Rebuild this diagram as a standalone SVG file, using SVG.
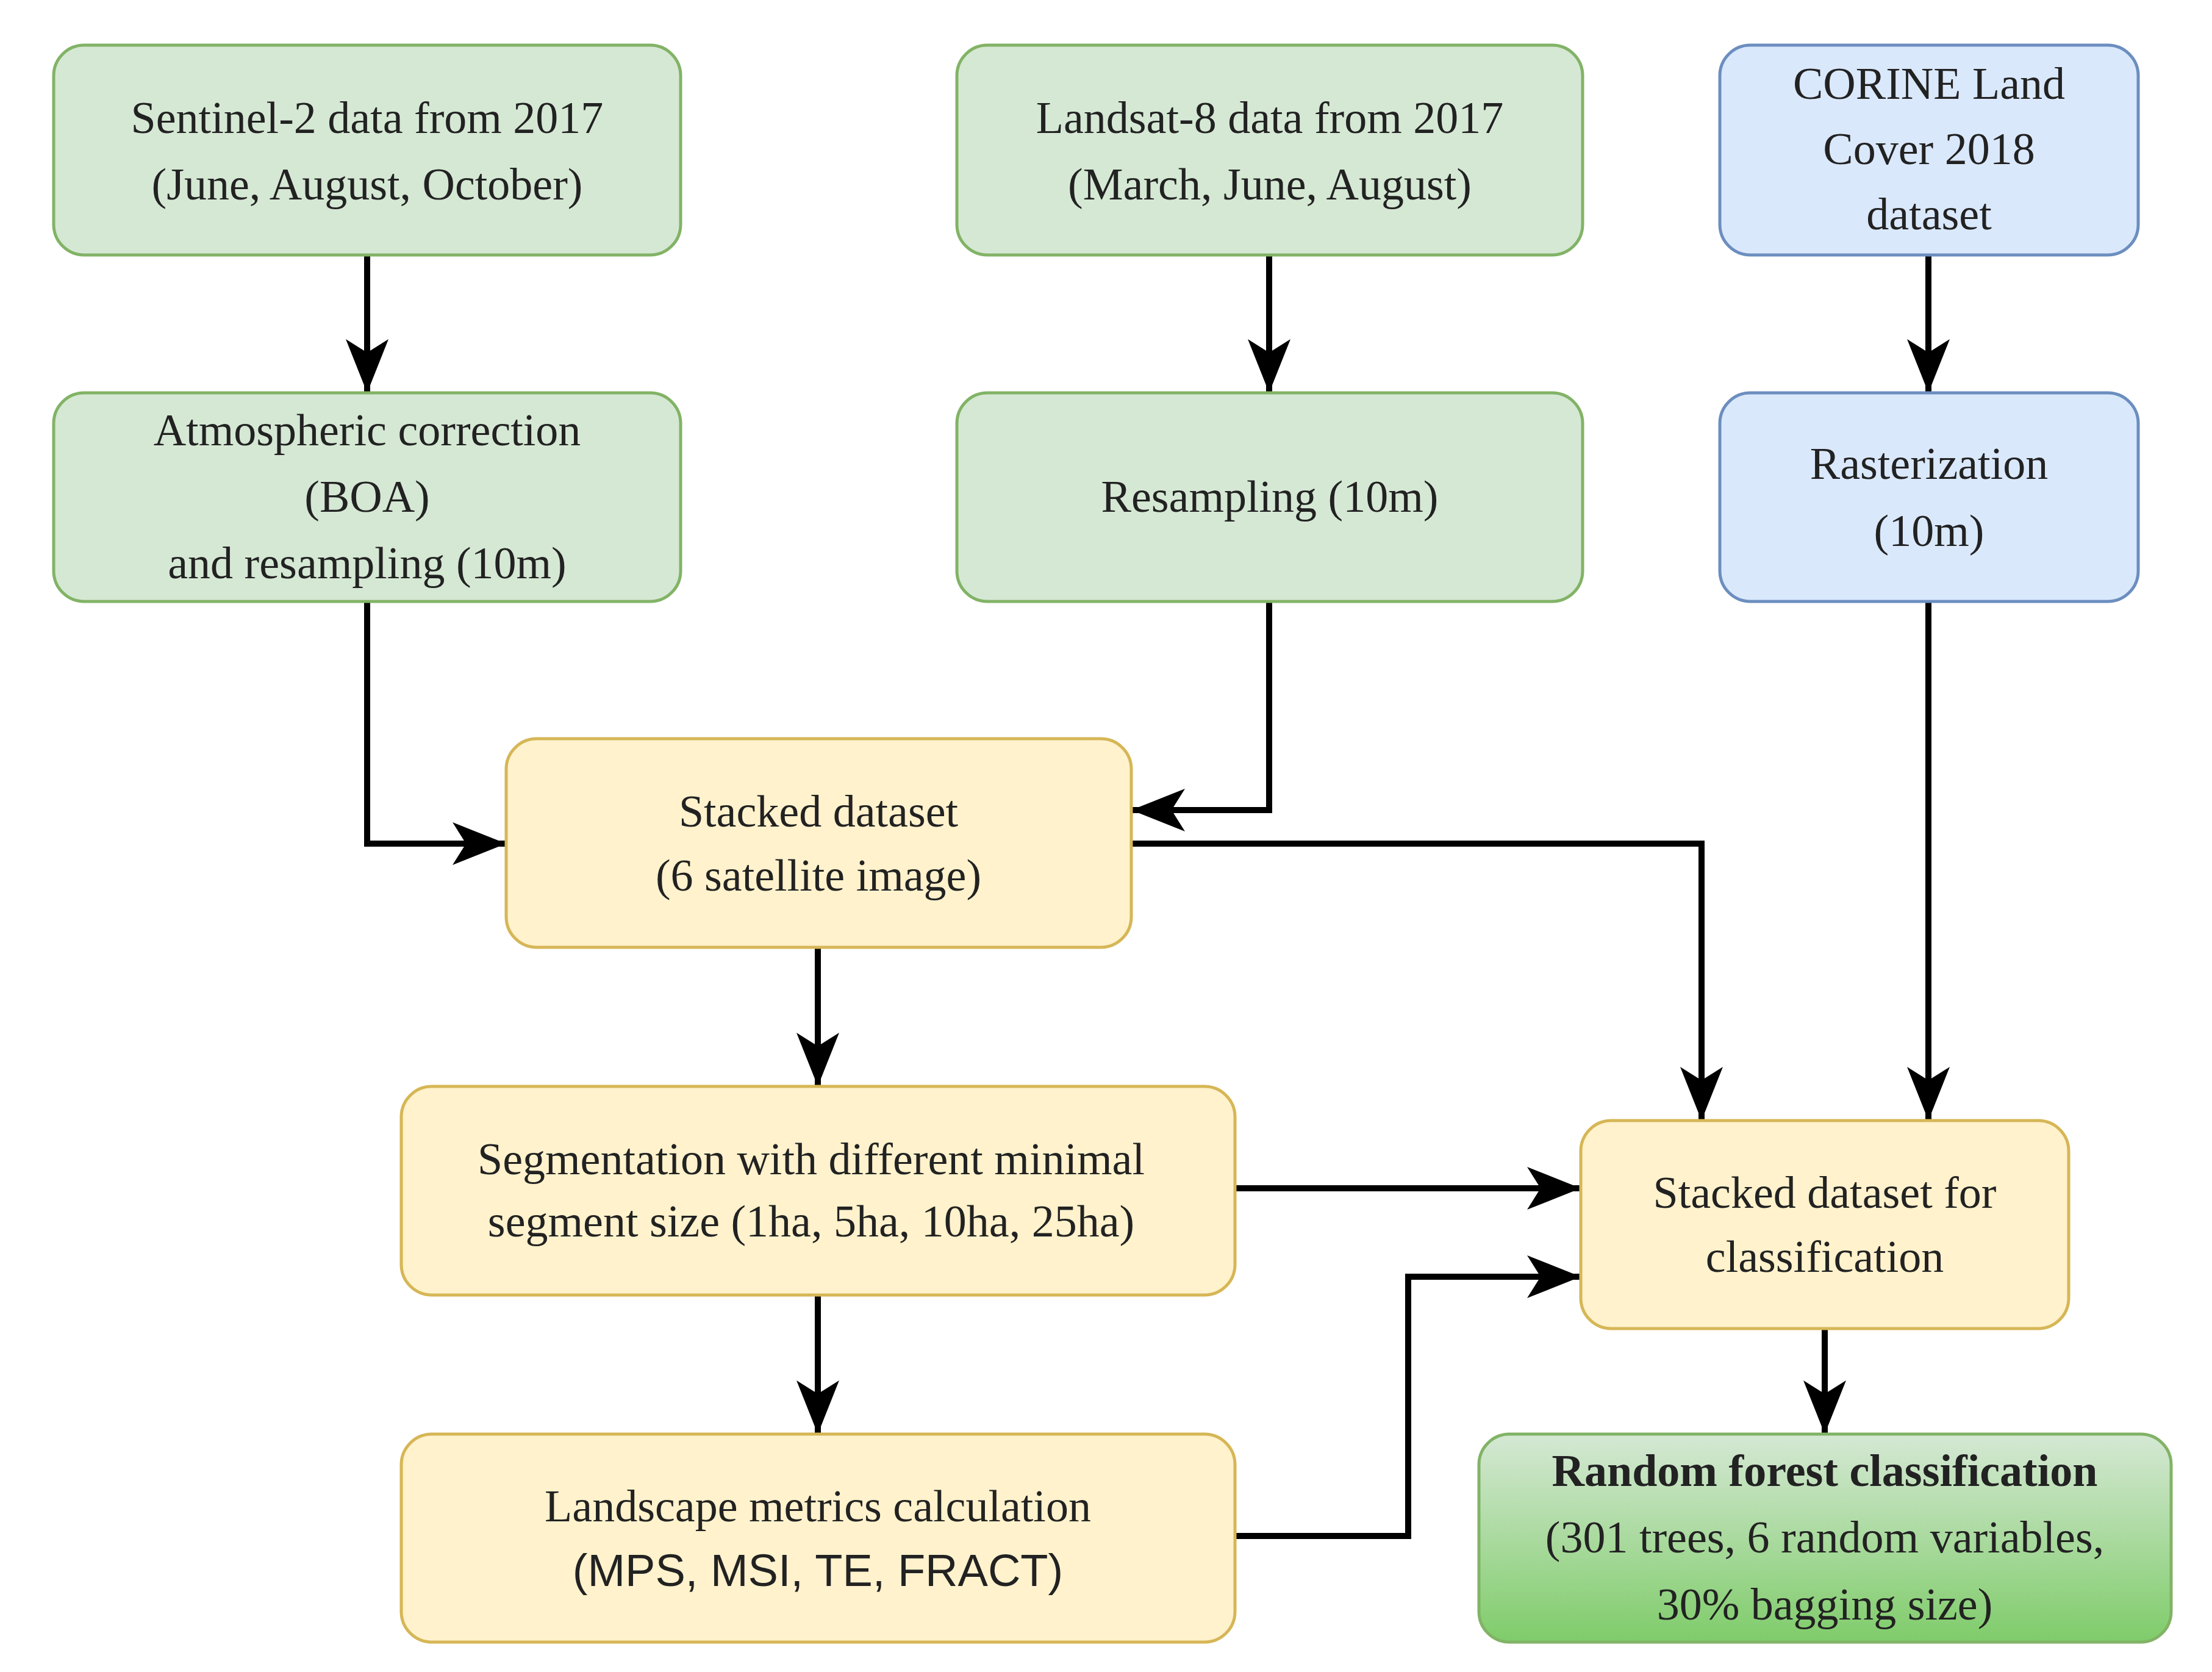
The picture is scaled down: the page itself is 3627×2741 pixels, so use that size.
<svg xmlns="http://www.w3.org/2000/svg" width="3627" height="2741" viewBox="0 0 3627 2741">
<style>
text{font-family:"Liberation Serif",serif;font-size:74px;fill:#222;text-anchor:middle;dominant-baseline:central}
.g{fill:#d5e8d4;stroke:#82b366;stroke-width:5}
.b{fill:#dae8fc;stroke:#6c8ebf;stroke-width:5}
.y{fill:#fff2cc;stroke:#d6b656;stroke-width:5}
.c{fill:none;stroke:#000;stroke-width:10;marker-end:url(#a)}
</style>
<defs>
<marker id="a" markerUnits="userSpaceOnUse" markerWidth="90" markerHeight="90" viewBox="0 0 90 90" refX="88" refY="45" orient="auto">
<path d="M0,10 L88,45 L0,80 L22,45 Z" fill="#000"/>
</marker>
<linearGradient id="rf" x1="0" y1="0" x2="0" y2="1"><stop offset="0" stop-color="#d5e8d4"/><stop offset="1" stop-color="#7fcc6a"/></linearGradient>
</defs>
<rect width="3627" height="2741" fill="#fff"/>
<g id="connectors">
<path class="c" d="M602,418 V644"/>
<path class="c" d="M2081,418 V644"/>
<path class="c" d="M3162,418 V644"/>
<path class="c" d="M602,986 V1383 H830"/>
<path class="c" d="M2081,986 V1328 H1855"/>
<path class="c" d="M1855,1383 H2790 V1837"/>
<path class="c" d="M3162,986 V1837"/>
<path class="c" d="M1341,1553 V1781"/>
<path class="c" d="M2025,1948 H2592"/>
<path class="c" d="M1341,2123 V2351"/>
<path class="c" d="M2025,2518 H2309 V2093 H2592"/>
<path class="c" d="M2992,2178 V2351"/>
</g>
<g id="sentinel"><rect class="g" x="88" y="74" width="1028" height="344" rx="50"/><text x="602" y="193">Sentinel-2 data from 2017</text><text x="602" y="302">(June, August, October)</text></g>
<g id="atmospheric"><rect class="g" x="88" y="644" width="1028" height="342" rx="50"/><text x="602" y="705">Atmospheric correction</text><text x="602" y="814">(BOA)</text><text x="602" y="923">and resampling (10m)</text></g>
<g id="landsat"><rect class="g" x="1569" y="74" width="1026" height="344" rx="50"/><text x="2082" y="193">Landsat-8 data from 2017</text><text x="2082" y="302">(March, June, August)</text></g>
<g id="resampling"><rect class="g" x="1569" y="644" width="1026" height="342" rx="50"/><text x="2082" y="814">Resampling (10m)</text></g>
<g id="corine"><rect class="b" x="2820" y="74" width="686" height="344" rx="50"/><text x="3163" y="137">CORINE Land</text><text x="3163" y="244">Cover 2018</text><text x="3163" y="351">dataset</text></g>
<g id="rasterization"><rect class="b" x="2820" y="644" width="686" height="342" rx="50"/><text x="3163" y="760">Rasterization</text><text x="3163" y="870">(10m)</text></g>
<g id="stacked"><rect class="y" x="830" y="1211" width="1025" height="342" rx="50"/><text x="1342" y="1330" font-size="70">Stacked dataset</text><text x="1342" y="1435" font-size="70">(6 satellite image)</text></g>
<g id="segmentation"><rect class="y" x="658" y="1781" width="1367" height="342" rx="50"/><text x="1330" y="1900" font-size="72">Segmentation with different minimal</text><text x="1330" y="2002" font-size="72">segment size (1ha, 5ha, 10ha, 25ha)</text></g>
<g id="landscape"><rect class="y" x="658" y="2351" width="1367" height="341" rx="50"/><text x="1341" y="2469" font-size="72">Landscape metrics calculation</text><text x="1341" y="2574" font-size="78" style="font-family:'Liberation Sans',sans-serif">(MPS, MSI, TE, FRACT)</text></g>
<g id="stackedclass"><rect class="y" x="2592" y="1837" width="800" height="341" rx="50"/><text x="2992" y="1955" font-size="72">Stacked dataset for</text><text x="2992" y="2060" font-size="72">classification</text></g>
<g id="randomforest"><rect x="2425" y="2351" width="1135" height="341" rx="50" fill="url(#rf)" stroke="#82b366" stroke-width="5"/><text x="2992" y="2411" font-weight="bold" font-size="76">Random forest classification</text><text x="2992" y="2520">(301 trees, 6 random variables,</text><text x="2992" y="2630">30% bagging size)</text></g>
</svg>
